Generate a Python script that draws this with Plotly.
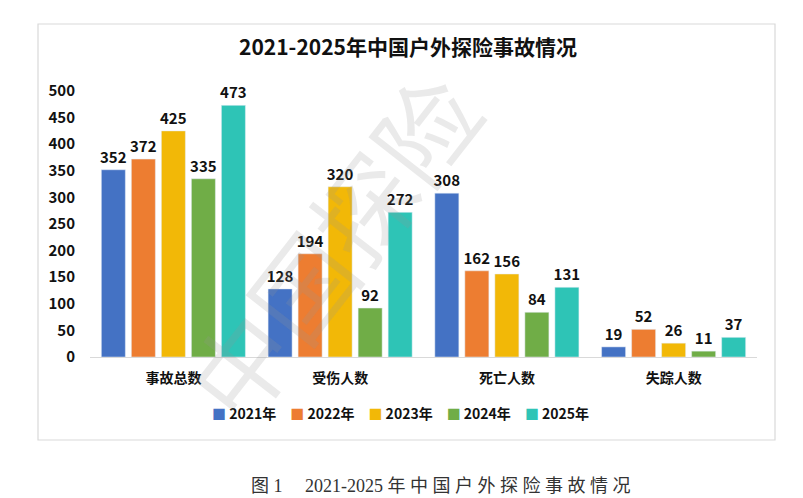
import plotly.graph_objects as go

categories = ["事故总数", "受伤人数", "死亡人数", "失踪人数"]
years = ["2021年", "2022年", "2023年", "2024年", "2025年"]
values = {
    "2021年": [352, 128, 308, 19],
    "2022年": [372, 194, 162, 52],
    "2023年": [425, 320, 156, 26],
    "2024年": [335, 92, 84, 11],
    "2025年": [473, 272, 131, 37],
}
colors = ["#4472C4", "#ED7D31", "#F2B807", "#70AD47", "#2EC4B6"]
y_ticks = list(range(0, 501, 50))

FONT = "Noto Sans CJK SC"
OFF = 8  # 页面 body 默认边距

# 参考图中的像素位置 -> paper 坐标
L, R, T, B = 90, 757, 91, 357
def px(x):
    return (x - L) / (R - L)
def py(y):
    return (B - y) / (B - T)

W, H = 803 - OFF, 498 - OFF

fig = go.Figure()
for year, color in zip(years, colors):
    fig.add_trace(go.Bar(
        name=year,
        x=categories,
        y=values[year],
        marker_color=color,
        text=values[year],
        textposition="outside",
        constraintext="none",
        cliponaxis=False,
        textfont=dict(family=FONT, size=15, color="#111111", weight=700),
    ))

legend_text = "　".join(
    f"<span style='color:{c}'>■</span> {y}" for y, c in zip(years, colors)
)

fig.update_layout(
    width=W, height=H,
    margin=dict(l=L - OFF, r=W - (R - OFF), t=T - OFF, b=H - (B - OFF)),
    paper_bgcolor="white", plot_bgcolor="white",
    barmode="group", bargap=0.10, bargroupgap=0.2,
    font=dict(family=FONT, color="#111111"),
    title=dict(
        text="2021-2025年中国户外探险事故情况",
        x=(408 - OFF) / W, xanchor="center", y=1 - (48 - OFF) / H, yanchor="middle",
        font=dict(family=FONT, size=21, color="#111111", weight=700),
    ),
    showlegend=False,
    shapes=[dict(
        type="rect", xref="paper", yref="paper",
        x0=px(38), x1=px(775), y0=py(440), y1=py(24),
        line=dict(color="#D9D9D9", width=1.2), fillcolor="rgba(0,0,0,0)", layer="below",
    )],
    annotations=[
        dict(
            text=legend_text,
            xref="paper", yref="paper", x=px(400), y=py(413),
            xanchor="center", yanchor="middle", showarrow=False,
            font=dict(family=FONT, size=14, color="#111111", weight=700),
        ),
        dict(
            text="图 1　 2021-2025 年 中 国 户 外 探 险 事 故 情 况",
            xref="paper", yref="paper", x=px(441), y=py(486),
            xanchor="center", yanchor="middle", showarrow=False,
            font=dict(family="Liberation Serif, Noto Sans CJK SC", size=18, color="#333333"),
        ),
        dict(
            text="中国探险",
            xref="paper", yref="paper", x=px(330), y=py(245),
            xanchor="center", yanchor="middle", showarrow=False, textangle=-52,
            font=dict(family=FONT, size=100, color="rgba(150,150,150,0.2)"),
        ),
    ],
)
fig.update_xaxes(
    showline=True, linecolor="#D9D9D9", linewidth=1.2, ticks="",
    tickfont=dict(family=FONT, size=14, weight=700, color="#111111"),
    ticklabelstandoff=8, showgrid=False,
)
fig.update_yaxes(
    range=[0, 500], tickvals=y_ticks, showgrid=False, zeroline=False, showline=False,
    tickfont=dict(family=FONT, size=15, weight=700, color="#111111"),
    ticklabelstandoff=14,
)

fig.write_html("out.html")
